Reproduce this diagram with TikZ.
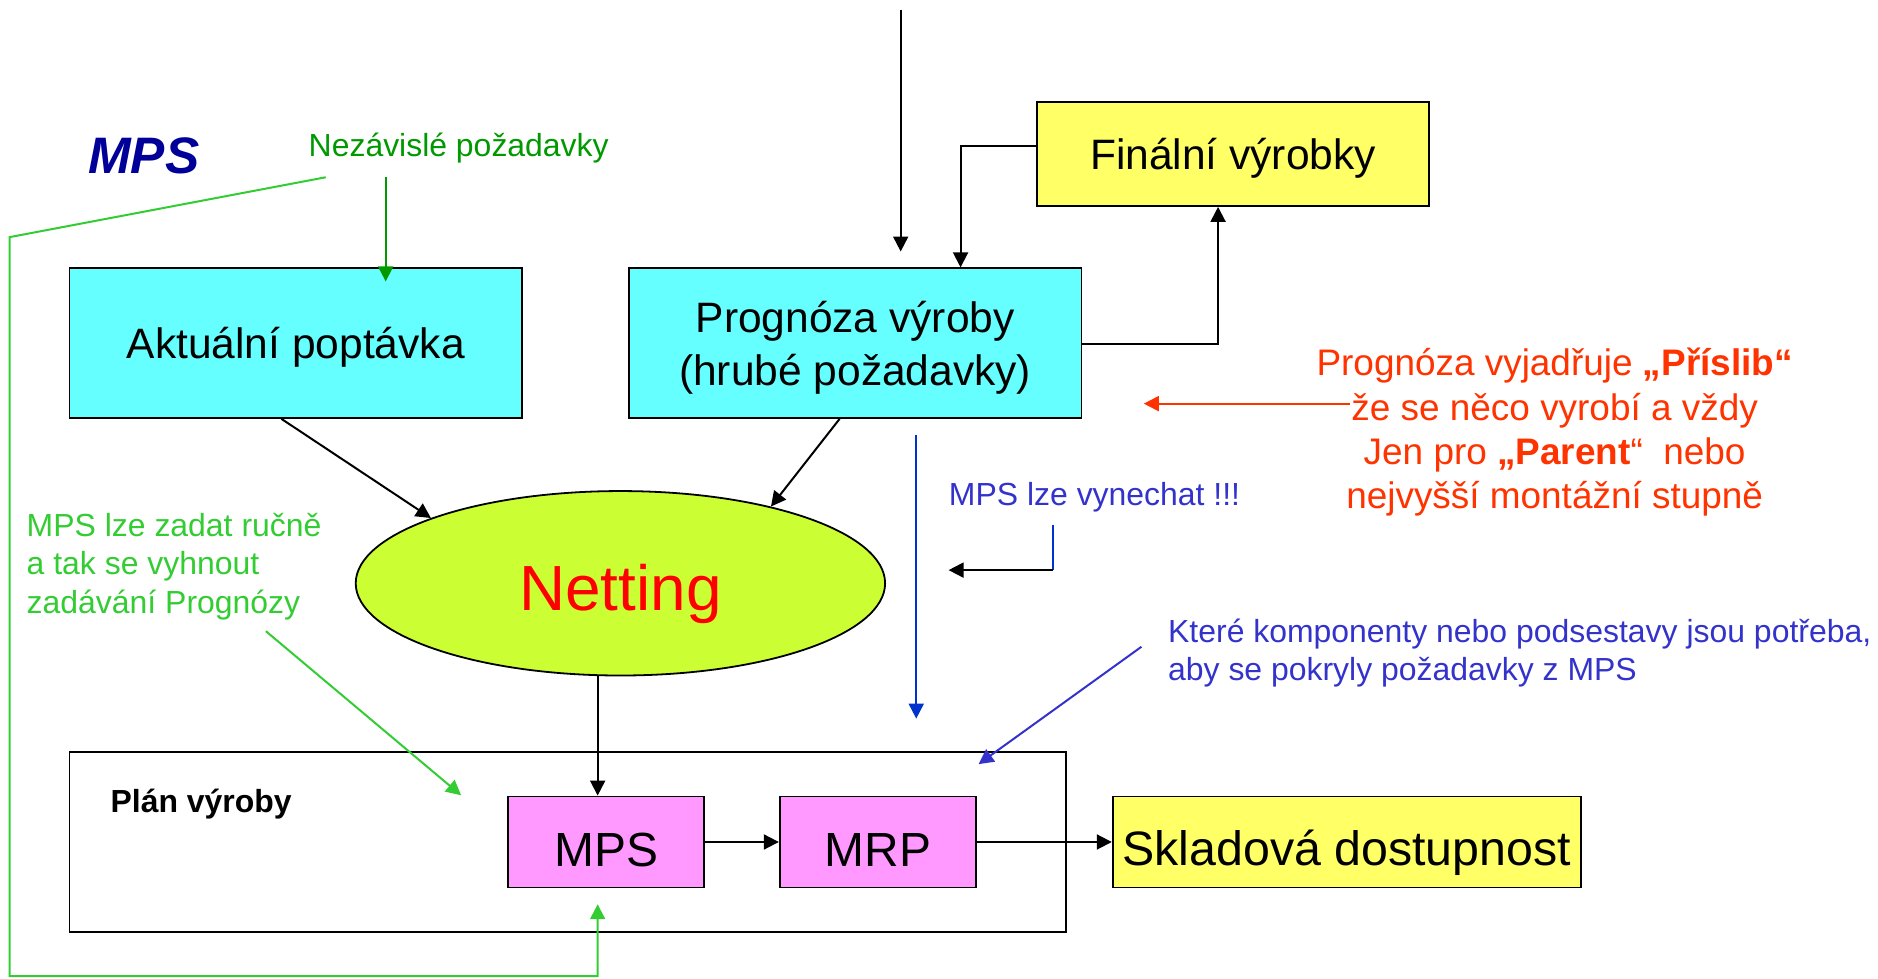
\documentclass[tikz,border=0pt]{standalone}
\usepackage{fontspec}
\setmainfont{Liberation Sans}
\usetikzlibrary{arrows.meta,calc,shapes.geometric}
\definecolor{cyanbox}{HTML}{66FFFF}
\definecolor{yellowbox}{HTML}{FFFF66}
\definecolor{pinkbox}{HTML}{FF99FF}
\definecolor{limefill}{HTML}{CCFF33}
\definecolor{redtxt}{HTML}{FF3300}
\definecolor{bluetxt}{HTML}{3333CC}
\definecolor{blueline}{HTML}{0033CC}
\definecolor{darkblue}{HTML}{000099}
\definecolor{darkgreen}{HTML}{009900}
\definecolor{lightgreen}{HTML}{33CC33}
\begin{document}
\begin{tikzpicture}[x=0.6pt,y=-0.6pt,
  box/.style={draw=black,line width=0.9pt,inner sep=0pt,align=center},
  bigbox/.style={box,minimum width=226.8pt,minimum height=75pt,fill=cyanbox,font=\fontsize{21.3}{25.6}\selectfont},
  pinkb/.style={box,minimum width=98.4pt,minimum height=45.6pt,fill=pinkbox,font=\fontsize{24}{28}\selectfont,text height=24.1pt,text depth=0pt},
  arr/.style={line width=1pt,-{Triangle[length=7.5pt,width=7.5pt]}},
  lbl/.style={inner sep=0pt,font=\fontsize{16}{19.2}\selectfont,align=left}]
\useasboundingbox (0,0) rectangle (1568,817);

% title and labels
\node[inner sep=0pt,text=darkblue,font=\fontsize{25.7}{30}\selectfont\bfseries\itshape] (title) at (120,130) {MPS};
\node[lbl,text=darkgreen] (nez) at (383,124) {Nezávislé požadavky};

% main boxes
\node[bigbox,text height=15pt,text depth=0pt] (akt) at (247,286.5) {Aktuální poptávka};
\node[bigbox] (prog) at (714,286.5) {};
\node[inner sep=0pt,align=center,font=\fontsize{21.3}{26.4}\selectfont] (progtxt) at (714,290.5) {Prognóza výroby\\(hrubé požadavky)};
\node[box,fill=yellowbox,minimum width=196.2pt,minimum height=52.2pt,font=\fontsize{21.3}{25.6}\selectfont,text height=16.1pt,text depth=0pt] (fin) at (1029.5,128.5) {Finální výrobky};
\node[draw=black,line width=0.9pt,ellipse,fill=limefill,inner sep=0pt,minimum width=265.2pt,minimum height=92.4pt,text=red,font=\fontsize{32}{36}\selectfont,text height=26.8pt,text depth=0pt] (net) at (518,487) {Netting};
\node[draw=black,line width=0.9pt,inner sep=0pt,minimum width=499.2pt,minimum height=90pt] (plan) at (474,703) {};
\node[inner sep=0pt,font=\fontsize{16}{19}\selectfont\bfseries,anchor=west] (plantxt) at (92,671) {Plán výroby};
\node[pinkb] (mps) at (506,703) {MPS};
\node[pinkb] (mrp) at (733,703) {MRP};
\node[box,fill=yellowbox,minimum width=234.6pt,minimum height=45.6pt,font=\fontsize{24.2}{28}\selectfont,text height=23.8pt,text depth=0pt] (skl) at (1124.5,703) {Skladová dostupnost};

% texts
\node[inner sep=0pt,text=redtxt,align=center,font=\fontsize{18.5}{22.2}\selectfont] (red) at (1298,361) {Prognóza vyjadřuje \textbf{„Příslib“}\\že se něco vyrobí a vždy\\Jen pro \textbf{„Parent}“\ \ nebo\\nejvyšší montážní stupně};
\node[lbl,text=bluetxt,anchor=west] (vyn) at (792,415) {MPS lze vynechat !!!};
\node[lbl,text=bluetxt,anchor=west] (kom) at (975,545) {Které komponenty nebo podsestavy jsou potřeba,\\aby se pokryly požadavky z MPS};
\node[lbl,text=lightgreen,anchor=west,font=\fontsize{16}{19.4}\selectfont] (rucne) at (22,473) {MPS lze zadat ručně\\a tak se vyhnout\\zadávání Prognózy};

% coordinates
\coordinate (topin) at (752,8);
\coordinate (topout) at (752,210);
\coordinate (c802) at (802,0);
\coordinate (c1017) at (1017,0);
\coordinate (c499) at (499,0);
\coordinate (redA) at (1127,337);
\coordinate (redB) at (955,337);
\coordinate (blA) at (765,363);
\coordinate (blB) at (765,600);
\coordinate (vA) at (879,438);
\coordinate (vB) at (879,476);
\coordinate (vC) at (792,476);
\coordinate (kA) at (953,540);
\coordinate (kB) at (817,638);
\coordinate (gA) at (222,527);
\coordinate (gB) at (385,664);
\coordinate (nA) at (322,148);
\coordinate (nB) at (322,235);
\coordinate (lA) at (272,148);
\coordinate (lB) at (8,198);
\coordinate (lC) at (8,815);
\coordinate (lD) at (499,815);
\coordinate (lE) at (499,755);

% black connectors
\draw[arr] (topin) -- (topout);
\draw[arr] ($(fin.west)+(0,-6.5)$) -| (prog.north -| c802);
\draw[arr] ($(prog.east)+(0,0.5)$) -| (fin.south -| c1017);
\draw[arr] ($(akt.south)+(-12,0)$) -- (net.161);
\draw[arr] ($(prog.south)+(-13,0)$) -- (net.27);
\draw[arr] (net.south -| c499) -- (mps.north -| c499);
\draw[arr] (mps.east) -- (mrp.west);
\draw[arr] (mrp.east) -- (skl.west);

% coloured connectors
\draw[arr,draw=redtxt] (redA) -- (redB);
\draw[arr,draw=blueline] (blA) -- (blB);
\draw[line width=1pt,draw=blueline] (vA) -- (vB);
\draw[arr] (vB) -- (vC);
\draw[arr,draw=bluetxt] (kA) -- (kB);
\draw[arr,draw=lightgreen] (gA) -- (gB);
\draw[arr,draw=darkgreen] (nA) -- (nB);
\draw[arr,draw=lightgreen] (lA) -- (lB) -- (lC) -- (lD) -- (lE);
\end{tikzpicture}
\end{document}
